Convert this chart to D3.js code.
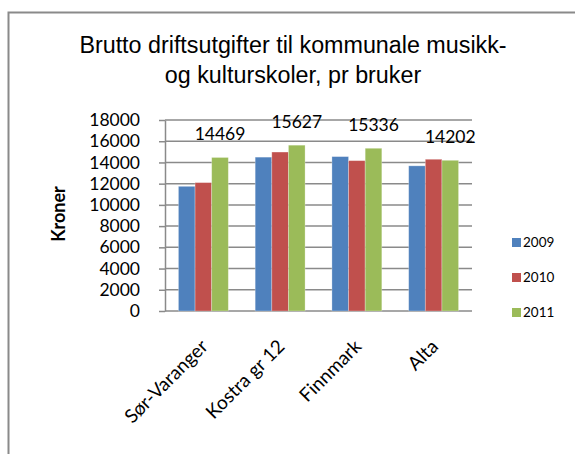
<!DOCTYPE html>
<html><head><meta charset="utf-8">
<script src="https://cdn.jsdelivr.net/npm/d3@7"></script>
<style>body{margin:0;background:#fff}svg{display:block}</style>
</head><body>
<svg id="c" width="575" height="454"></svg>
<script>
const categories = ["Sør-Varanger", "Kostra gr 12", "Finnmark", "Alta"];
const seriesNames = ["2009", "2010", "2011"];
const values2009 = [11750, 14500, 14550, 13680];
const values2010 = [12100, 14980, 14170, 14300];
const values2011 = [14469, 15627, 15336, 14202];
const labels2011 = ["14469", "15627", "15336", "14202"];
const yTicks = [0, 2000, 4000, 6000, 8000, 10000, 12000, 14000, 16000, 18000];
const colors = ["#4F81BD", "#C0504D", "#9BBB59"];

const series = [values2009, values2010, values2011];
const svg = d3.select("#c");
const F = "Lato, 'Open Sans', sans-serif";
const L = 165, R = 472, T = 120, B = 311;

svg.append("rect").attr("x", 8.5).attr("y", 12.5).attr("width", 620).attr("height", 500)
  .attr("fill", "#fff").attr("stroke", "#8a8a8a").attr("stroke-width", 2);

const x0 = d3.scaleBand().domain(categories).range([L, R]).paddingInner(0.35).paddingOuter(0.175);
const x1 = d3.scaleBand().domain(seriesNames).range([0, x0.bandwidth()]);
const y = d3.scaleLinear().domain([0, 18000]).range([B, T]);

// gridlines
svg.append("g").selectAll("line").data(yTicks).join("line")
  .attr("x1", L).attr("x2", R).attr("y1", d => y(d)).attr("y2", d => y(d))
  .attr("stroke", "#8a8a8a").attr("stroke-width", 1.5);

// y axis
const ya = svg.append("g").attr("transform", `translate(${L},0)`)
  .call(d3.axisLeft(y).tickValues(yTicks).tickFormat(d3.format("d")).tickSize(6).tickPadding(19).tickSizeOuter(0));
ya.select(".domain").attr("stroke", "#8a8a8a").attr("stroke-width", 1.5);
ya.selectAll(".tick line").attr("stroke", "#8a8a8a").attr("stroke-width", 1.5);
ya.selectAll(".tick text").attr("font-family", F).attr("font-size", 17.5).attr("fill", "#000");

// bars
const g = svg.append("g");
categories.forEach((c, i) => {
  seriesNames.forEach((s, j) => {
    g.append("rect")
      .attr("x", x0(c) + x1(s)).attr("width", x1.bandwidth())
      .attr("y", y(series[j][i])).attr("height", y(0) - y(series[j][i]))
      .attr("fill", colors[j]).attr("stroke", "rgba(255,255,255,0.35)").attr("stroke-width", 0.8);
  });
});

// data labels on 2011
svg.append("g").selectAll("text").data(categories).join("text")
  .attr("x", (c) => x0(c) + x1("2011") + x1.bandwidth() / 2)
  .attr("y", (c, i) => y(values2011[i]) - 17.5)
  .attr("text-anchor", "middle").attr("font-family", F).attr("font-size", 17.5).attr("fill", "#000")
  .text((c, i) => labels2011[i]);

// x axis labels
svg.append("g").selectAll("text").data(categories).join("text")
  .attr("transform", c => `translate(${x0(c) + x0.bandwidth() / 2 + 1},${B + 32}) rotate(-45)`)
  .attr("text-anchor", "end").attr("dy", "0.35em")
  .attr("font-family", F).attr("font-size", 19).attr("fill", "#000")
  .text(c => c);

// y title
svg.append("text").attr("transform", "translate(59,214) rotate(-90)")
  .attr("text-anchor", "middle").attr("dy", "0.35em")
  .attr("font-family", F).attr("font-weight", "bold").attr("font-size", 18).attr("fill", "#000")
  .text("Kroner");

// title
const tt = svg.append("text").attr("text-anchor", "middle")
  .attr("font-family", "'Liberation Sans', Arial, sans-serif").attr("font-size", 23.3).attr("fill", "#000");
tt.append("tspan").attr("x", 293).attr("y", 53).text("Brutto driftsutgifter til kommunale musikk-");
tt.append("tspan").attr("x", 293).attr("y", 83).text("og kulturskoler, pr bruker");

// legend
const lg = svg.append("g").selectAll("g").data(seriesNames).join("g")
  .attr("transform", (d, i) => `translate(512,${238 + i * 35})`);
lg.append("rect").attr("width", 9).attr("height", 9).attr("fill", (d, i) => colors[i]);
lg.append("text").attr("x", 11).attr("y", 4.5).attr("dy", "0.35em")
  .attr("font-family", F).attr("font-size", 13.5).attr("fill", "#000").text(d => d);
</script>
</body></html>
